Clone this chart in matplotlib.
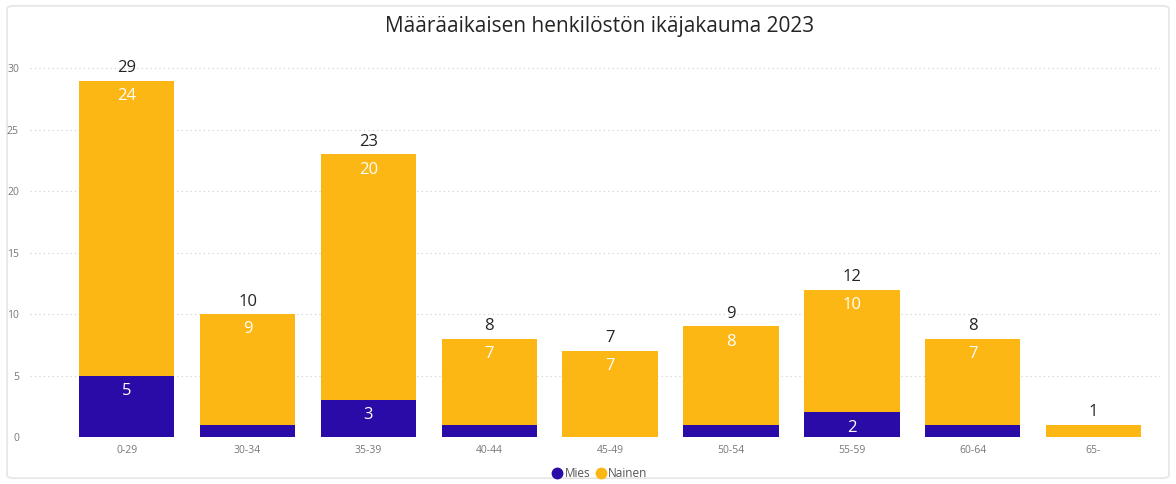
import matplotlib.pyplot as plt
from matplotlib.lines import Line2D
from matplotlib.patches import FancyBboxPatch
import numpy as np

plt.rcParams['font.family'] = ['Open Sans', 'DejaVu Sans']

ikaryhmat = ['0-29', '30-34', '35-39', '40-44', '45-49', '50-54', '55-59', '60-64', '65-']
mies = [5, 1, 3, 1, 0, 1, 2, 1, 0]
nainen = [24, 9, 20, 7, 7, 8, 10, 7, 1]
yticks = [0, 5, 10, 15, 20, 25, 30]

c_mies = '#2A0BA8'
c_nainen = '#FCB714'

fig = plt.figure(figsize=(11.76, 4.84), dpi=100)
fig.patches.append(FancyBboxPatch((0.006, 0.012), 0.988, 0.976, boxstyle='round,pad=0,rounding_size=0.006',
                                  transform=fig.transFigure, fc='none', ec='#e6e6e6', lw=1.2, zorder=-1))
ax = fig.add_axes([30 / 1176, 1 - 437 / 484, 1130 / 1176, 387 / 484])
ax.patch.set_alpha(0)

x = np.arange(len(ikaryhmat))
mies = np.array(mies)
nainen = np.array(nainen)
total = mies + nainen

ax.bar(x, mies, width=0.79, color=c_mies, zorder=2)
ax.bar(x, nainen, width=0.79, bottom=mies, color=c_nainen, zorder=2)

for i in range(len(x)):
    ax.annotate(str(total[i]), (x[i], total[i]), xytext=(0, 9), textcoords='offset points',
                ha='center', va='center', fontsize=12, color='#252423')
    if nainen[i] >= 2:
        ax.annotate(str(nainen[i]), (x[i], total[i]), xytext=(0, -11), textcoords='offset points',
                    ha='center', va='center', fontsize=12, color='white')
    if mies[i] >= 2:
        ax.annotate(str(mies[i]), (x[i], mies[i]), xytext=(0, -11), textcoords='offset points',
                    ha='center', va='center', fontsize=12, color='white')

ax.set_xlim(-0.80, 8.55)
ax.set_ylim(0, 31.5)
ax.set_yticks(yticks)
ax.set_xticks(x)
ax.set_xticklabels(ikaryhmat)
ax.tick_params(axis='both', length=0, labelsize=7.5, labelcolor='#777777')
ax.tick_params(axis='x', pad=6)
ax.yaxis.set_tick_params(pad=8)
ax.grid(axis='y', color='#cccccc', linestyle=(0, (1, 3)), linewidth=0.8, zorder=0)
for s in ax.spines.values():
    s.set_visible(False)

fig.text(0.51, 0.945, 'Määräaikaisen henkilöstön ikäjakauma 2023', ha='center', va='center',
         fontsize=15, color='#252423')

handles = [Line2D([], [], marker='o', ls='', color=c_mies, markersize=7.5),
           Line2D([], [], marker='o', ls='', color=c_nainen, markersize=7.5)]
fig.legend(handles, ['Mies', 'Nainen'], loc='center', bbox_to_anchor=(0.51, 0.022), ncol=2,
           frameon=False, fontsize=8.5, labelcolor='#555555', handlelength=0.9,
           handletextpad=0.2, columnspacing=0.4)

fig.savefig('out.png', dpi=100)
